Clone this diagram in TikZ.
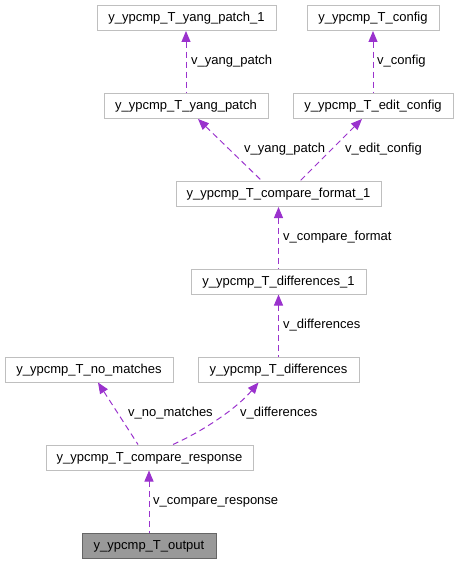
\documentclass[tikz,border=0pt]{standalone}
\usepackage{fontspec}
\setmainfont{Liberation Sans}
\usetikzlibrary{arrows.meta}
\definecolor{edgecol}{HTML}{9A32CD}
\definecolor{boxline}{HTML}{BFBFBF}
\definecolor{outfill}{HTML}{999999}
\definecolor{outline}{HTML}{666666}
\tikzset{
  box/.style={draw=boxline, line width=1pt, fill=white, minimum height=25pt, inner sep=0pt, text height=9.5pt, text depth=2.2pt, font=\fontsize{13}{15}\selectfont},
  outbox/.style={box, draw=outline, fill=outfill},
  edge/.style={draw=edgecol, line width=1pt, dash pattern=on 6pt off 4pt, {Triangle[length=11pt,width=9pt,fill=edgecol]}-},
  lbl/.style={anchor=west, inner sep=0pt, text height=9.5pt, text depth=2.7pt, font=\fontsize{13}{15}\selectfont}
}
\begin{document}
\begin{tikzpicture}[x=1pt,y=-1pt]
\useasboundingbox (0,0) rectangle (459,564);
\node[box, minimum width=179pt] (yp1) at (186.5,18) {y\_ypcmp\_T\_yang\_patch\_1};
\node[box, minimum width=132pt] (cfg) at (373,18) {y\_ypcmp\_T\_config};
\node[box, minimum width=164pt] (yp) at (186,106) {y\_ypcmp\_T\_yang\_patch};
\node[box, minimum width=160pt] (ec) at (373,106) {y\_ypcmp\_T\_edit\_config};
\node[box, minimum width=205pt] (cf1) at (278.5,194) {y\_ypcmp\_T\_compare\_format\_1};
\node[box, minimum width=175pt] (d1) at (278.5,281.5) {y\_ypcmp\_T\_differences\_1};
\node[box, minimum width=168pt] (nm) at (89,369.5) {y\_ypcmp\_T\_no\_matches};
\node[box, minimum width=161pt] (d) at (278.5,369.5) {y\_ypcmp\_T\_differences};
\node[box, minimum width=207pt] (cr) at (149.5,457.5) {y\_ypcmp\_T\_compare\_response};
\node[outbox, minimum width=134pt] (out) at (149,546) {y\_ypcmp\_T\_output};

\draw[edge] ([xshift=-0.5pt]yp1.south) -- (yp.north);
\draw[edge] (cfg.south) -- (ec.north);
\draw[edge] ([xshift=12pt]yp.south) -- ([xshift=-16.5pt]cf1.north);
\draw[edge] ([xshift=-11pt]ec.south) -- ([xshift=21.5pt]cf1.north);
\draw[edge] (cf1.south) -- (d1.north);
\draw[edge] (d1.south) -- (d.north);
\draw[edge] ([xshift=9pt]nm.south) -- ([xshift=-11.5pt]cr.north);
\draw[edge] ([xshift=-20pt]d.south) .. controls (237,408) and (205,430) .. ([xshift=23.5pt]cr.north);
\draw[edge] ([xshift=-0.5pt]cr.south) -- (out.north);

\node[lbl] (l1) at (191,61) {v\_yang\_patch};
\node[lbl] (l2) at (377,61) {v\_config};
\node[lbl] (l3) at (244,149) {v\_yang\_patch};
\node[lbl] (l4) at (345,149) {v\_edit\_config};
\node[lbl] (l5) at (283,237) {v\_compare\_format};
\node[lbl] (l6) at (283,325) {v\_differences};
\node[lbl] (l7) at (128,413) {v\_no\_matches};
\node[lbl] (l8) at (240,413) {v\_differences};
\node[lbl] (l9) at (153,501) {v\_compare\_response};
\end{tikzpicture}
\end{document}
